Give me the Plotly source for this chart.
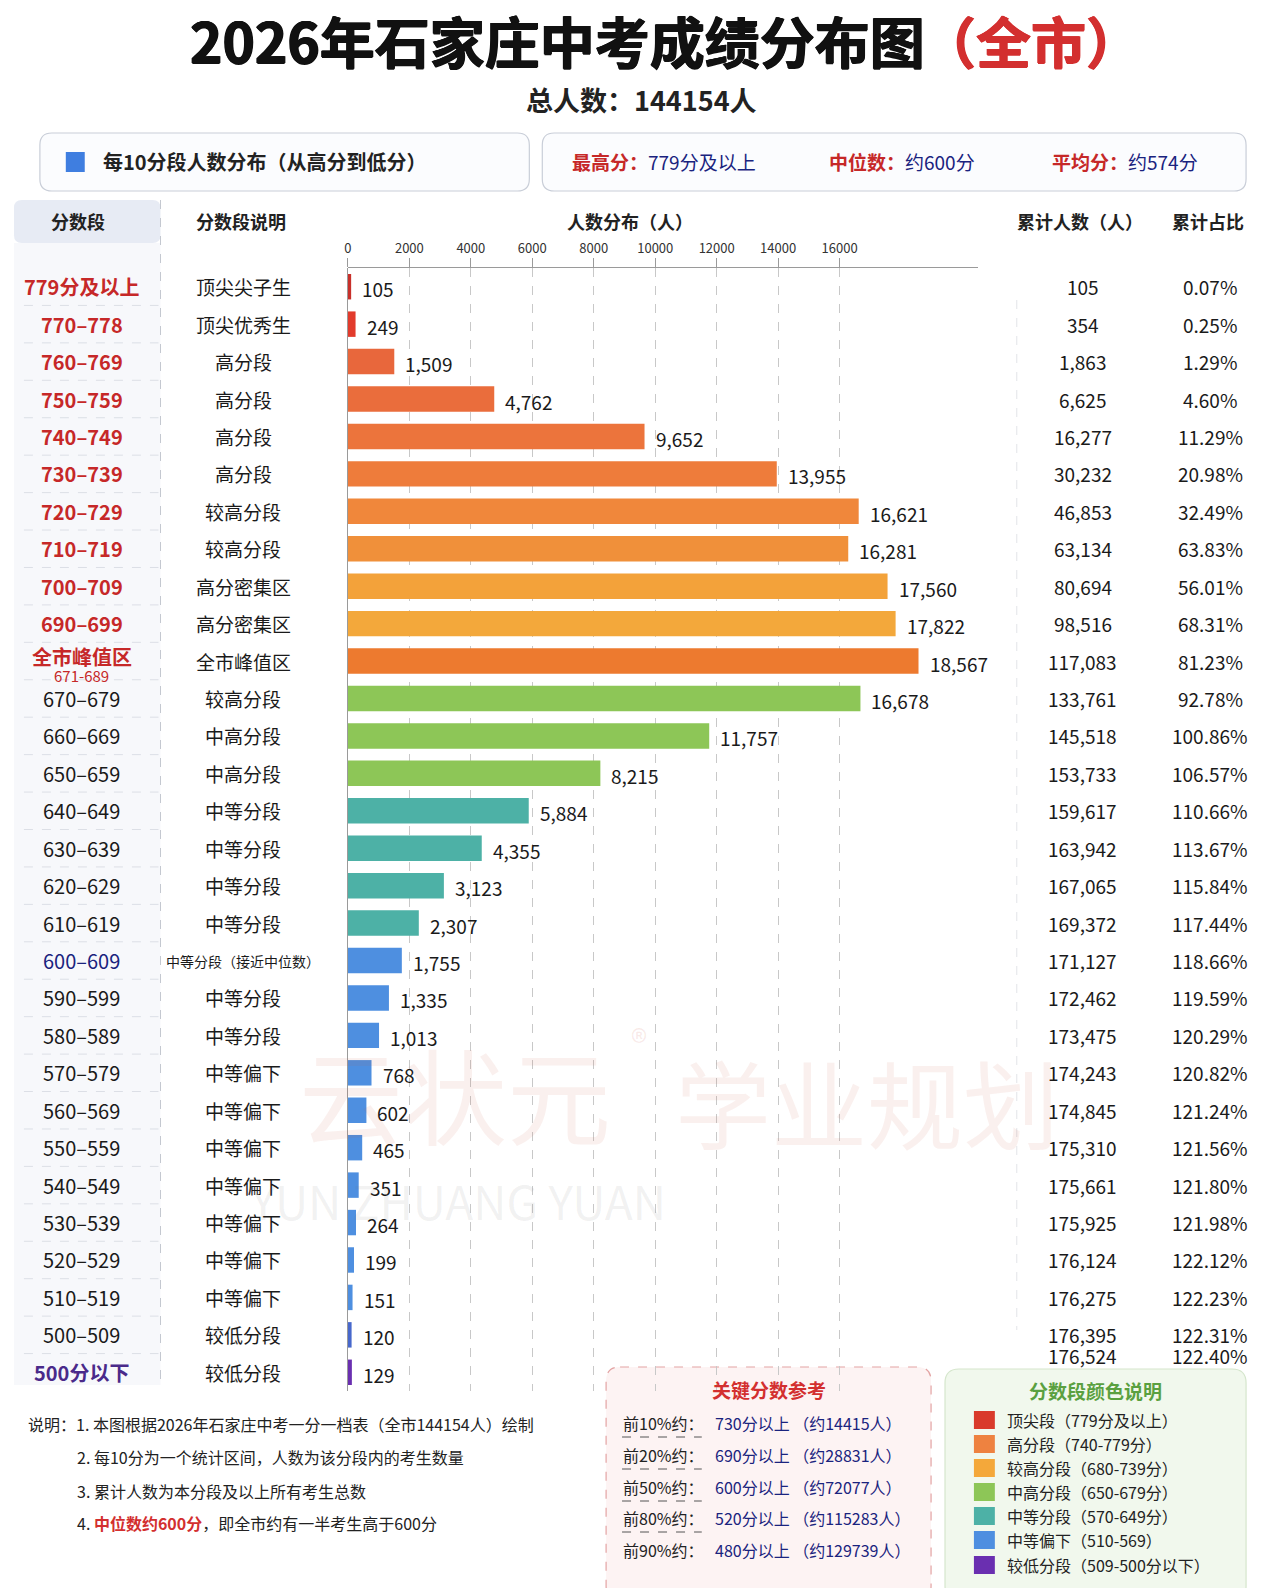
import plotly.graph_objects as go

W, H = 1264, 1588
FONT = "Noto Sans CJK SC, Noto Sans, sans-serif"

# ---------------- data ----------------
score_bands = ["779分及以上", "770–778", "760–769", "750–759", "740–749", "730–739",
               "720–729", "710–719", "700–709", "690–699", "全市峰值区", "670–679",
               "660–669", "650–659", "640–649", "630–639", "620–629", "610–619",
               "600–609", "590–599", "580–589", "570–579", "560–569", "550–559",
               "540–549", "530–539", "520–529", "510–519", "500–509", "500分以下"]
descriptions = ["顶尖尖子生", "顶尖优秀生", "高分段", "高分段", "高分段", "高分段",
                "较高分段", "较高分段", "高分密集区", "高分密集区", "全市峰值区", "较高分段",
                "中高分段", "中高分段", "中等分段", "中等分段", "中等分段", "中等分段",
                "中等分段（接近中位数）", "中等分段", "中等分段", "中等偏下", "中等偏下", "中等偏下",
                "中等偏下", "中等偏下", "中等偏下", "中等偏下", "较低分段", "较低分段"]
counts = [105, 249, 1509, 4762, 9652, 13955, 16621, 16281, 17560, 17822, 18567, 16678,
          11757, 8215, 5884, 4355, 3123, 2307, 1755, 1335, 1013, 768, 602, 465,
          351, 264, 199, 151, 120, 129]
cum_counts = [105, 354, 1863, 6625, 16277, 30232, 46853, 63134, 80694, 98516, 117083, 133761,
              145518, 153733, 159617, 163942, 167065, 169372, 171127, 172462, 173475, 174243,
              174845, 175310, 175661, 175925, 176124, 176275, 176395, 176524]
cum_pct = ["0.07%", "0.25%", "1.29%", "4.60%", "11.29%", "20.98%", "32.49%", "63.83%",
           "56.01%", "68.31%", "81.23%", "92.78%", "100.86%", "106.57%", "110.66%", "113.67%",
           "115.84%", "117.44%", "118.66%", "119.59%", "120.29%", "120.82%", "121.24%",
           "121.56%", "121.80%", "121.98%", "122.12%", "122.23%", "122.31%", "122.40%"]
bar_colors = ["#c8302a", "#e23b2c", "#e8673c", "#ea6d3c", "#ec743c", "#ee7c3b",
              "#f0873b", "#f0903a", "#f3a23a", "#f3a83b", "#ed7a2f", "#8dc657",
              "#8dc657", "#8dc657", "#4db1a6", "#4db1a6", "#4db1a6", "#4db1a6",
              "#4e8fe0", "#4e8fe0", "#4e8fe0", "#4e8fe0", "#4e8fe0", "#4e8fe0",
              "#4e8fe0", "#4e8fe0", "#4e8fe0", "#4e8fe0", "#4768cc", "#6a2fb0"]
band_colors = ["#c62828"] * 11 + ["#1a1a1a"] * 7 + ["#1a237e"] + ["#1a1a1a"] * 10 + ["#4a2a8a"]

x_ticks = [0, 2000, 4000, 6000, 8000, 10000, 12000, 14000, 16000]

key_labels = ["前10%约：", "前20%约：", "前50%约：", "前80%约：", "前90%约："]
key_values = ["730分以上 （约14415人）", "690分以上 （约28831人）", "600分以上 （约72077人）",
              "520分以上 （约115283人）", "480分以上 （约129739人）"]

legend_items = ["顶尖段（779分及以上）", "高分段（740-779分）", "较高分段（680-739分）",
                "中高分段（650-679分）", "中等分段（570-649分）", "中等偏下（510-569）",
                "较低分段（509-500分以下）"]
legend_colors = ["#d93a2b", "#ee8240", "#f4a83a", "#8dc657", "#4db1a6", "#4e8fe0", "#6a2fb0"]

notes = ["1. 本图根据2026年石家庄中考一分一档表（全市144154人）绘制",
         "2. 每10分为一个统计区间，人数为该分段内的考生数量",
         "3. 累计人数为本分段及以上所有考生总数",
         "<span style='color:#d32f2f'><b>中位数约600分</b></span>，即全市约有一半考生高于600分"]


def X(p):
    return p / W


def Y(p):
    return 1 - p / H


def rrect(x0, y0, x1, y1, r):
    return (f"M {X(x0 + r)},{Y(y0)} L {X(x1 - r)},{Y(y0)} Q {X(x1)},{Y(y0)} {X(x1)},{Y(y0 + r)} "
            f"L {X(x1)},{Y(y1 - r)} Q {X(x1)},{Y(y1)} {X(x1 - r)},{Y(y1)} "
            f"L {X(x0 + r)},{Y(y1)} Q {X(x0)},{Y(y1)} {X(x0)},{Y(y1 - r)} "
            f"L {X(x0)},{Y(y0 + r)} Q {X(x0)},{Y(y0)} {X(x0 + r)},{Y(y0)} Z")


ann = []


def A(text, x, y, size, color="#1a1a1a", xref="paper", yref="paper", xanchor="center",
      yanchor="middle", shadow=None, **kw):
    font = dict(size=size, color=color, family=FONT)
    if shadow:
        font["shadow"] = shadow
    ann.append(dict(text=text, x=x, y=y, xref=xref, yref=yref, xanchor=xanchor, yanchor=yanchor,
                    showarrow=False, font=font, **kw))


def heavy(c):
    return f"0.8px 0 0 {c}, -0.8px 0 0 {c}, 0 0.8px 0 {c}, 0 -0.5px 0 {c}"


fig = go.Figure()
fig.add_trace(go.Bar(
    x=counts, y=score_bands, orientation="h",
    marker=dict(color=bar_colors, line=dict(width=0)),
    width=0.68, hoverinfo="x+y", showlegend=False,
))

shapes = []

# backgrounds
shapes.append(dict(type="rect", xref="paper", yref="paper", x0=X(10), x1=X(157), y0=Y(1385), y1=Y(243),
                   fillcolor="#f7f8fb", line=dict(width=0), layer="below"))
shapes.append(dict(type="path", xref="paper", yref="paper", path=rrect(10, 200, 157, 243, 8),
                   fillcolor="#e7ebf4", line=dict(width=0), layer="below"))
shapes.append(dict(type="line", xref="paper", yref="paper", x0=X(157), x1=X(157), y0=Y(200), y1=Y(1385),
                   line=dict(color="#c4c8d0", width=1, dash="dash")))
shapes.append(dict(type="line", xref="paper", yref="paper", x0=X(1016), x1=X(1016), y0=Y(300), y1=Y(1330),
                   line=dict(color="#e2e4e8", width=1, dash="dash")))
for i in range(len(score_bands) - 1):
    shapes.append(dict(type="line", xref="paper", yref="y", x0=X(20), x1=X(155), y0=i + 0.5, y1=i + 0.5,
                       line=dict(color="#dcdfe6", width=1, dash="dash")))

# header boxes
shapes.append(dict(type="path", xref="paper", yref="paper", path=rrect(36, 133, 527, 191, 12),
                   fillcolor="#fbfcfe", line=dict(color="#c9ced8", width=1.2), layer="below"))
shapes.append(dict(type="path", xref="paper", yref="paper", path=rrect(540, 133, 1246, 191, 12),
                   fillcolor="#fbfcfe", line=dict(color="#c9ced8", width=1.2), layer="below"))
shapes.append(dict(type="rect", xref="paper", yref="paper", x0=X(62), x1=X(81), y0=Y(172), y1=Y(152),
                   fillcolor="#3f7ee0", line=dict(width=0)))

# bottom boxes
shapes.append(dict(type="path", xref="paper", yref="paper", path=rrect(604, 1367, 930, 1600, 14),
                   fillcolor="#fdf3f3", line=dict(color="#e3a3a3", width=1.2, dash="dash"), layer="below"))
shapes.append(dict(type="path", xref="paper", yref="paper", path=rrect(944, 1369, 1246, 1600, 14),
                   fillcolor="#f1f8ed", line=dict(color="#d5e6cc", width=1.2), layer="below"))

# watermark (drawn first so that it sits under the rest of the text)
A("云状元", X(452), Y(1092), 104, "rgba(205,90,70,0.09)")
A("®", X(637), Y(1040), 34, "rgba(205,90,70,0.12)")
A("学业规划", X(866), Y(1100), 96, "rgba(205,90,70,0.09)")
A("YUN ZHUANG YUAN", X(455), Y(1200), 46, "rgba(120,120,120,0.10)")

# title (two parts so each can carry its own colour)
A("<b>2026年石家庄中考成绩分布图</b>", X(926), Y(39), 55, "#111111", xanchor="right",
  shadow=heavy("#111111"))
A("<b>（全市）</b>", X(918), Y(39), 55, "#d32f2f", xanchor="left", shadow=heavy("#d32f2f"))
A("<b>总人数：144154人</b>", X(640), Y(99), 27, "#222222")

# header box texts
A("<b>每10分段人数分布（从高分到低分）</b>", X(97), Y(162), 20, "#222222", xanchor="left")
for xx, lab, val in [(568, "最高分：", "779分及以上"), (826, "中位数：", "约600分"), (1049, "平均分：", "约574分")]:
    A(f"<b><span style='color:#c62828'>{lab}</span></b><span style='color:#1a237e'>{val}</span>",
      X(xx), Y(162), 19, xanchor="left")

# column headers
for xx, t in [(74, "分数段"), (238, "分数段说明"), (628, "人数分布（人）"), (1079, "累计人数（人）"), (1208, "累计占比")]:
    A(f"<b>{t}</b>", X(xx), Y(221), 18, "#222222")

# rows
for i, band in enumerate(score_bands):
    if band == "全市峰值区":
        A("<b>全市峰值区</b>", X(78), band, 20, band_colors[i], yref="y", yshift=5)
        A("671-689", X(78), band, 15, band_colors[i], yref="y", yshift=-14)
    else:
        bold = i < 10 or i == len(score_bands) - 1
        A(f"<b>{band}</b>" if bold else band, X(78), band, 20, band_colors[i], yref="y")
    dsz = 14 if len(descriptions[i]) > 6 else 19
    A(descriptions[i], X(240), band, dsz, "#1a1a1a", yref="y")
    A(f"{counts[i]:,}", counts[i], band, 19, "#1a1a1a", xref="x", yref="y", xanchor="left",
      xshift=9, yshift=-2)
    ys = 17 if i == len(score_bands) - 1 else 0
    A(f"{cum_counts[i]:,}", X(1082), band, 19, "#1a1a1a", yref="y", yshift=ys)
    A(cum_pct[i], X(1210), band, 19, "#1a1a1a", yref="y", yshift=ys)

# notes
A("说明：" + notes[0], X(22), Y(1424), 16, "#222222", xanchor="left")
for k, yy in zip(range(1, 4), [1457, 1491, 1523]):
    txt = notes[k] if k < 3 else "4. " + notes[k]
    A(txt, X(71), Y(yy), 16, "#222222", xanchor="left")

# key reference box
A("<b>关键分数参考</b>", X(767), Y(1389), 19, "#d32f2f")
for k, yy in enumerate([1423, 1455, 1487, 1518, 1550]):
    A(key_labels[k], X(619), Y(yy), 16, "#222222", xanchor="left")
    A(key_values[k], X(711), Y(yy), 16, "#1a237e", xanchor="left")
    if k < 4:
        shapes.append(dict(type="line", xref="paper", yref="paper", x0=X(620), x1=X(700),
                           y0=Y(yy + 14), y1=Y(yy + 14), line=dict(color="#555555", width=1, dash="dash")))

# colour legend box
A("<b>分数段颜色说明</b>", X(1095), Y(1390), 19, "#5aa040")
for k, yy in enumerate([1420, 1444, 1468, 1492, 1516, 1540, 1565]):
    shapes.append(dict(type="rect", xref="paper", yref="paper", x0=X(973), x1=X(994),
                       y0=Y(yy + 9), y1=Y(yy - 9), fillcolor=legend_colors[k], line=dict(width=0)))
    A(legend_items[k], X(1004), Y(yy), 16, "#222222", xanchor="left")

fig.update_layout(
    width=W, height=H, margin=dict(l=0, r=0, t=0, b=0),
    paper_bgcolor="white", plot_bgcolor="rgba(0,0,0,0)",
    xaxis=dict(domain=[X(345), X(977)], range=[0, 20500], side="top",
               tickvals=x_ticks, ticktext=[str(v) for v in x_ticks],
               tickfont=dict(size=13, color="#333333", family=FONT),
               showgrid=True, gridcolor="#c8c8c8", griddash="dash", gridwidth=1,
               zeroline=True, zerolinecolor="#9a9a9a", zerolinewidth=1.2,
               showline=True, linecolor="#9a9a9a", linewidth=1,
               ticks="outside", ticklen=9, tickcolor="#9a9a9a", fixedrange=True),
    yaxis=dict(domain=[Y(1391), Y(268)], range=[len(score_bands) - 0.5, -0.5],
               type="category", showticklabels=False, showgrid=False, zeroline=False, fixedrange=True),
    shapes=shapes, annotations=ann,
    font=dict(family=FONT),
)

fig.write_html("out.html")
